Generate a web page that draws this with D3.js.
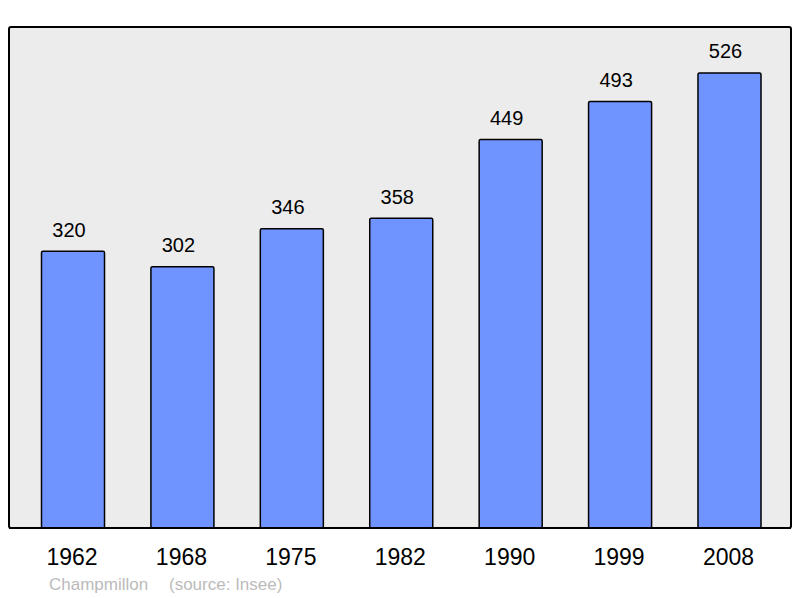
<!DOCTYPE html>
<html>
<head>
<meta charset="utf-8">
<script src="https://cdn.jsdelivr.net/npm/d3@7"></script>
<style>
  body { margin: 0; background: #fff; }
  svg { font-family: "Liberation Sans", Arial, sans-serif; }
</style>
</head>
<body>
<script>
const years = ["1962", "1968", "1975", "1982", "1990", "1999", "2008"];
const population = [320, 302, 346, 358, 449, 493, 526];
const town = "Champmillon";
const source = "(source: Insee)";

const width = 800;
const height = 598;
const panel = { left: 9, top: 27, right: 791, bottom: 528 };

const svg = d3.select("body")
    .append("svg")
    .attr("width", width)
    .attr("height", height);

svg.append("rect")
    .attr("x", panel.left)
    .attr("y", panel.top)
    .attr("width", panel.right - panel.left)
    .attr("height", panel.bottom - panel.top)
    .attr("rx", 2)
    .attr("fill", "#ececec")
    .attr("stroke", "#000")
    .attr("stroke-width", 2);

const x = d3.scaleBand()
    .domain(years)
    .range([18.3, 784.2])
    .paddingInner(0.424)
    .paddingOuter(0.212);

const y = d3.scaleLinear()
    .domain([0, 578])
    .range([panel.bottom, panel.top + 1]);

const data = years.map((yr, i) => ({ year: yr, value: population[i] }));

svg.selectAll("rect.bar")
    .data(data)
    .enter()
    .append("rect")
    .attr("class", "bar")
    .attr("x", d => x(d.year))
    .attr("y", d => y(d.value))
    .attr("width", x.bandwidth())
    .attr("height", d => y(0) - y(d.value))
    .attr("rx", 1.5)
    .attr("fill", "#7094ff")
    .attr("stroke", "#000")
    .attr("stroke-width", 1.5);

svg.selectAll("text.value")
    .data(data)
    .enter()
    .append("text")
    .attr("class", "value")
    .attr("x", d => x(d.year) + x.bandwidth() / 2 - 4)
    .attr("y", d => y(d.value) - 14.5)
    .attr("text-anchor", "middle")
    .style("font-size", "20px")
    .text(d => d.value);

// redraw the bottom border over the bars
svg.append("line")
    .attr("x1", panel.left)
    .attr("x2", panel.right)
    .attr("y1", panel.bottom)
    .attr("y2", panel.bottom)
    .attr("stroke", "#000")
    .attr("stroke-width", 2);

const xAxis = d3.axisBottom(x).tickSize(0).tickPadding(0);
const axisG = svg.append("g")
    .attr("transform", `translate(-1,${panel.bottom})`)
    .call(xAxis);
axisG.select(".domain").remove();
axisG.selectAll("text")
    .attr("y", 37)
    .attr("dy", 0)
    .style("font-size", "23px")
    .style("font-family", "Liberation Sans, Arial, sans-serif")
    .attr("fill", "#000");

svg.append("text")
    .attr("x", 49)
    .attr("y", 590)
    .style("font-size", "17px")
    .attr("fill", "#bbbbbb")
    .text(town);

svg.append("text")
    .attr("x", 169)
    .attr("y", 590)
    .style("font-size", "17px")
    .attr("fill", "#bbbbbb")
    .text(source);
</script>
</body>
</html>
